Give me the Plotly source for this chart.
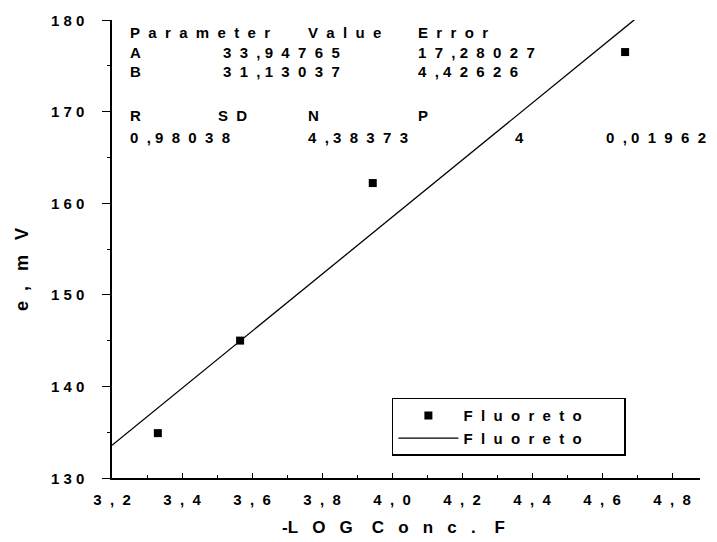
import plotly.graph_objects as go

# Data
conc_x = [3.331, 3.566, 3.945, 4.666]
emv_y = [134.9, 145.0, 162.2, 176.5]

# Linear fit parameters (from the table on the chart)
fit_A = 33.94765
fit_B = 31.13037
fit_x = [3.2, 4.692]
fit_y = [fit_A + fit_B * v for v in fit_x]

x_tick_vals = [3.2, 3.4, 3.6, 3.8, 4.0, 4.2, 4.4, 4.6, 4.8]
x_tick_labels = ["3,2", "3,4", "3,6", "3,8", "4,0", "4,2", "4,4", "4,6", "4,8"]
y_tick_vals = [130, 140, 150, 160, 170, 180]
y_tick_labels = ["130", "140", "150", "160", "170", "180"]

# Table text: (text, x, y)
table_cells = [
    ("Parameter", 3.246, 178.6),
    ("Value", 3.754, 178.6),
    ("Error", 4.069, 178.6),
    ("A", 3.246, 176.5),
    ("33,94765", 3.51, 176.5),
    ("17,28027", 4.069, 176.5),
    ("B", 3.246, 174.4),
    ("31,13037", 3.51, 174.4),
    ("4,42626", 4.069, 174.4),
    ("R", 3.246, 169.6),
    ("SD", 3.497, 169.6),
    ("N", 3.754, 169.6),
    ("P", 4.069, 169.6),
    ("0,98038", 3.246, 167.2),
    ("4,38373", 3.754, 167.2),
    ("4", 4.345, 167.2),
    ("0,01962", 4.607, 167.2),
]

series_name = "Fluoreto"
x_title = "-LOG Conc. F"
y_title = "e, m V"

FONT = "Liberation Sans, Arial, sans-serif"
NB = "\u00a0"


def spaced(s, gap=2, word=4, comma_after=1):
    """Letter-spaced rendering (typewriter-like look of the original)."""
    out = []
    for i, ch in enumerate(s):
        if ch == " ":
            out.append(NB * word)
            continue
        out.append(ch)
        if i < len(s) - 1 and s[i + 1] != " ":
            if ch == ",":
                out.append(NB * comma_after)
            elif ch == "-":
                pass
            else:
                out.append(NB * gap)
    return "".join(out)


def bold(s):
    return "<b>" + s + "</b>"


fig = go.Figure()
fig.add_trace(go.Scatter(
    x=conc_x, y=emv_y, mode="markers", name=bold(spaced(series_name, 2)) + NB * 9,
    marker=dict(symbol="square", size=8, color="black"),
))
fig.add_trace(go.Scatter(
    x=fit_x, y=fit_y, mode="lines", name=bold(spaced(series_name, 2)) + NB * 9,
    line=dict(color="black", width=1.3),
))

annotations = []
for txt, ax, ay in table_cells:
    annotations.append(dict(
        text=bold(spaced(txt, 2)), x=ax, y=ay, xref="x", yref="y",
        xanchor="left", yanchor="middle", showarrow=False,
        font=dict(family=FONT, size=15, color="black"),
    ))
# y tick labels (placed left of the outside ticks, as in the original)
for val, lab in zip(y_tick_vals, y_tick_labels):
    annotations.append(dict(
        text=bold(spaced(lab, 1)), x=-0.044, y=val, xref="paper", yref="y",
        xanchor="right", yanchor="middle", showarrow=False,
        font=dict(family=FONT, size=15, color="black"),
    ))
# axis titles
annotations.append(dict(
    text=bold(spaced(x_title, 3, 4)), x=0.478, y=-0.109, xref="paper", yref="paper",
    xanchor="center", yanchor="middle", showarrow=False,
    font=dict(family=FONT, size=17, color="black"),
))
annotations.append(dict(
    text=bold(spaced(y_title, 2, 3)), x=-0.153, y=0.454, xref="paper", yref="paper",
    xanchor="center", yanchor="middle", showarrow=False, textangle=-90,
    font=dict(family=FONT, size=18, color="black"),
))

fig.update_layout(
    width=717, height=542,
    margin=dict(l=104, r=25, t=12, b=72),
    paper_bgcolor="white", plot_bgcolor="white",
    font=dict(family=FONT, size=13, color="black"),
    showlegend=True,
    legend=dict(
        x=0.476, y=0.175, xanchor="left", yanchor="top",
        bordercolor="black", borderwidth=1.5, bgcolor="white",
        font=dict(family=FONT, size=15, color="black"),
        itemwidth=60, tracegroupgap=0,
    ),
    annotations=annotations,
)
fig.update_xaxes(
    range=[3.2, 4.88], tickvals=x_tick_vals,
    ticktext=[bold(spaced(t, 1, comma_after=2).replace(",", NB + ",")) for t in x_tick_labels],
    showline=True, linecolor="black", linewidth=1.5, mirror=False,
    ticks="inside", ticklen=5, tickcolor="black", showgrid=False, zeroline=False,
    minor=dict(dtick=0.1, ticks="inside", ticklen=3, tickcolor="black"),
    tickfont=dict(family=FONT, size=15), ticklabelstandoff=7,
    automargin=False,
)
fig.update_yaxes(
    range=[130, 180], tickvals=y_tick_vals, showticklabels=False,
    showline=True, linecolor="black", linewidth=2, mirror=False,
    ticks="outside", ticklen=8, tickcolor="black", showgrid=False, zeroline=False,
    minor=dict(dtick=5, ticks="outside", ticklen=3, tickcolor="black"),
    automargin=False,
)

fig.write_html("out.html")
